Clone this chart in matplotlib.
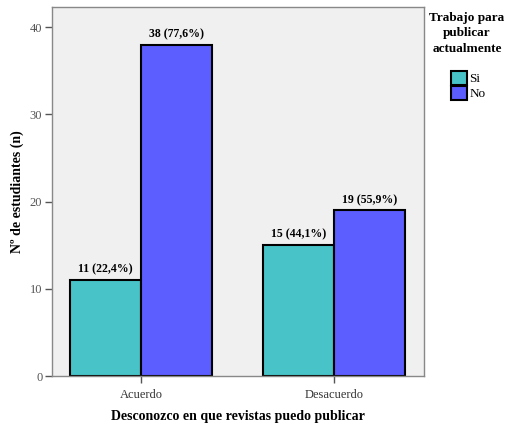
import numpy as np
import matplotlib.pyplot as plt
from matplotlib.patches import Patch

categorias = ["Acuerdo", "Desacuerdo"]
si = [11, 15]
no = [38, 19]
etiquetas_si = ["11 (22,4%)", "15 (44,1%)"]
etiquetas_no = ["38 (77,6%)", "19 (55,9%)"]

plt.rcParams['font.family'] = ['Liberation Serif', 'DejaVu Serif']

color_si = "#48C4C8"
color_no = "#5C5EFF"

fig = plt.figure(figsize=(5.07, 4.24), dpi=100)
ax = fig.add_axes([0.1026, 0.1132, 0.7334, 0.8703])
ax.set_facecolor("#F0F0F0")

x = np.arange(len(categorias))
w = 0.368
b1 = ax.bar(x - w / 2, si, w, color=color_si, edgecolor="black", linewidth=1.5)
b2 = ax.bar(x + w / 2, no, w, color=color_no, edgecolor="black", linewidth=1.5)

for rect, txt in zip(b1, etiquetas_si):
    ax.text(rect.get_x() + rect.get_width() / 2, rect.get_height() + 0.5, txt,
            ha="center", va="bottom", fontsize=8.5, fontweight="bold")
for rect, txt in zip(b2, etiquetas_no):
    ax.text(rect.get_x() + rect.get_width() / 2, rect.get_height() + 0.5, txt,
            ha="center", va="bottom", fontsize=8.5, fontweight="bold")

ax.set_xlim(-0.461, 1.466)
ax.set_ylim(0, 42.3)
ax.set_yticks([0, 10, 20, 30, 40])
ax.set_xticks(x)
ax.set_xticklabels(categorias)
ax.tick_params(axis="both", labelsize=9, colors="#555555", length=5, width=1, pad=2)
ax.tick_params(axis="x", labelcolor="#333333", pad=4)
for s in ax.spines.values():
    s.set_color("#888888")
    s.set_linewidth(1)

ax.set_xlabel("Desconozco en que revistas puedo publicar", fontsize=10,
              fontweight="bold", labelpad=7)
ax.set_ylabel("Nº de estudiantes (n)", fontsize=10, fontweight="bold", labelpad=4)

# titulo de la leyenda aparte
fig.text(0.921, 0.972, "Trabajo para\npublicar\nactualmente", ha="center", va="top",
         fontsize=9.5, fontweight="bold", linespacing=1.4)

handles = [Patch(facecolor=color_si, edgecolor="black", linewidth=1.5, label="Si"),
           Patch(facecolor=color_no, edgecolor="black", linewidth=1.5, label="No")]
leg = fig.legend(handles=handles, loc="upper left", bbox_to_anchor=(0.889, 0.832),
                 frameon=False, fontsize=9.5, handlelength=1.2, handleheight=1.2,
                 handletextpad=0.2, labelspacing=0.05, borderpad=0, borderaxespad=0)

fig.savefig("out.png", dpi=100)
